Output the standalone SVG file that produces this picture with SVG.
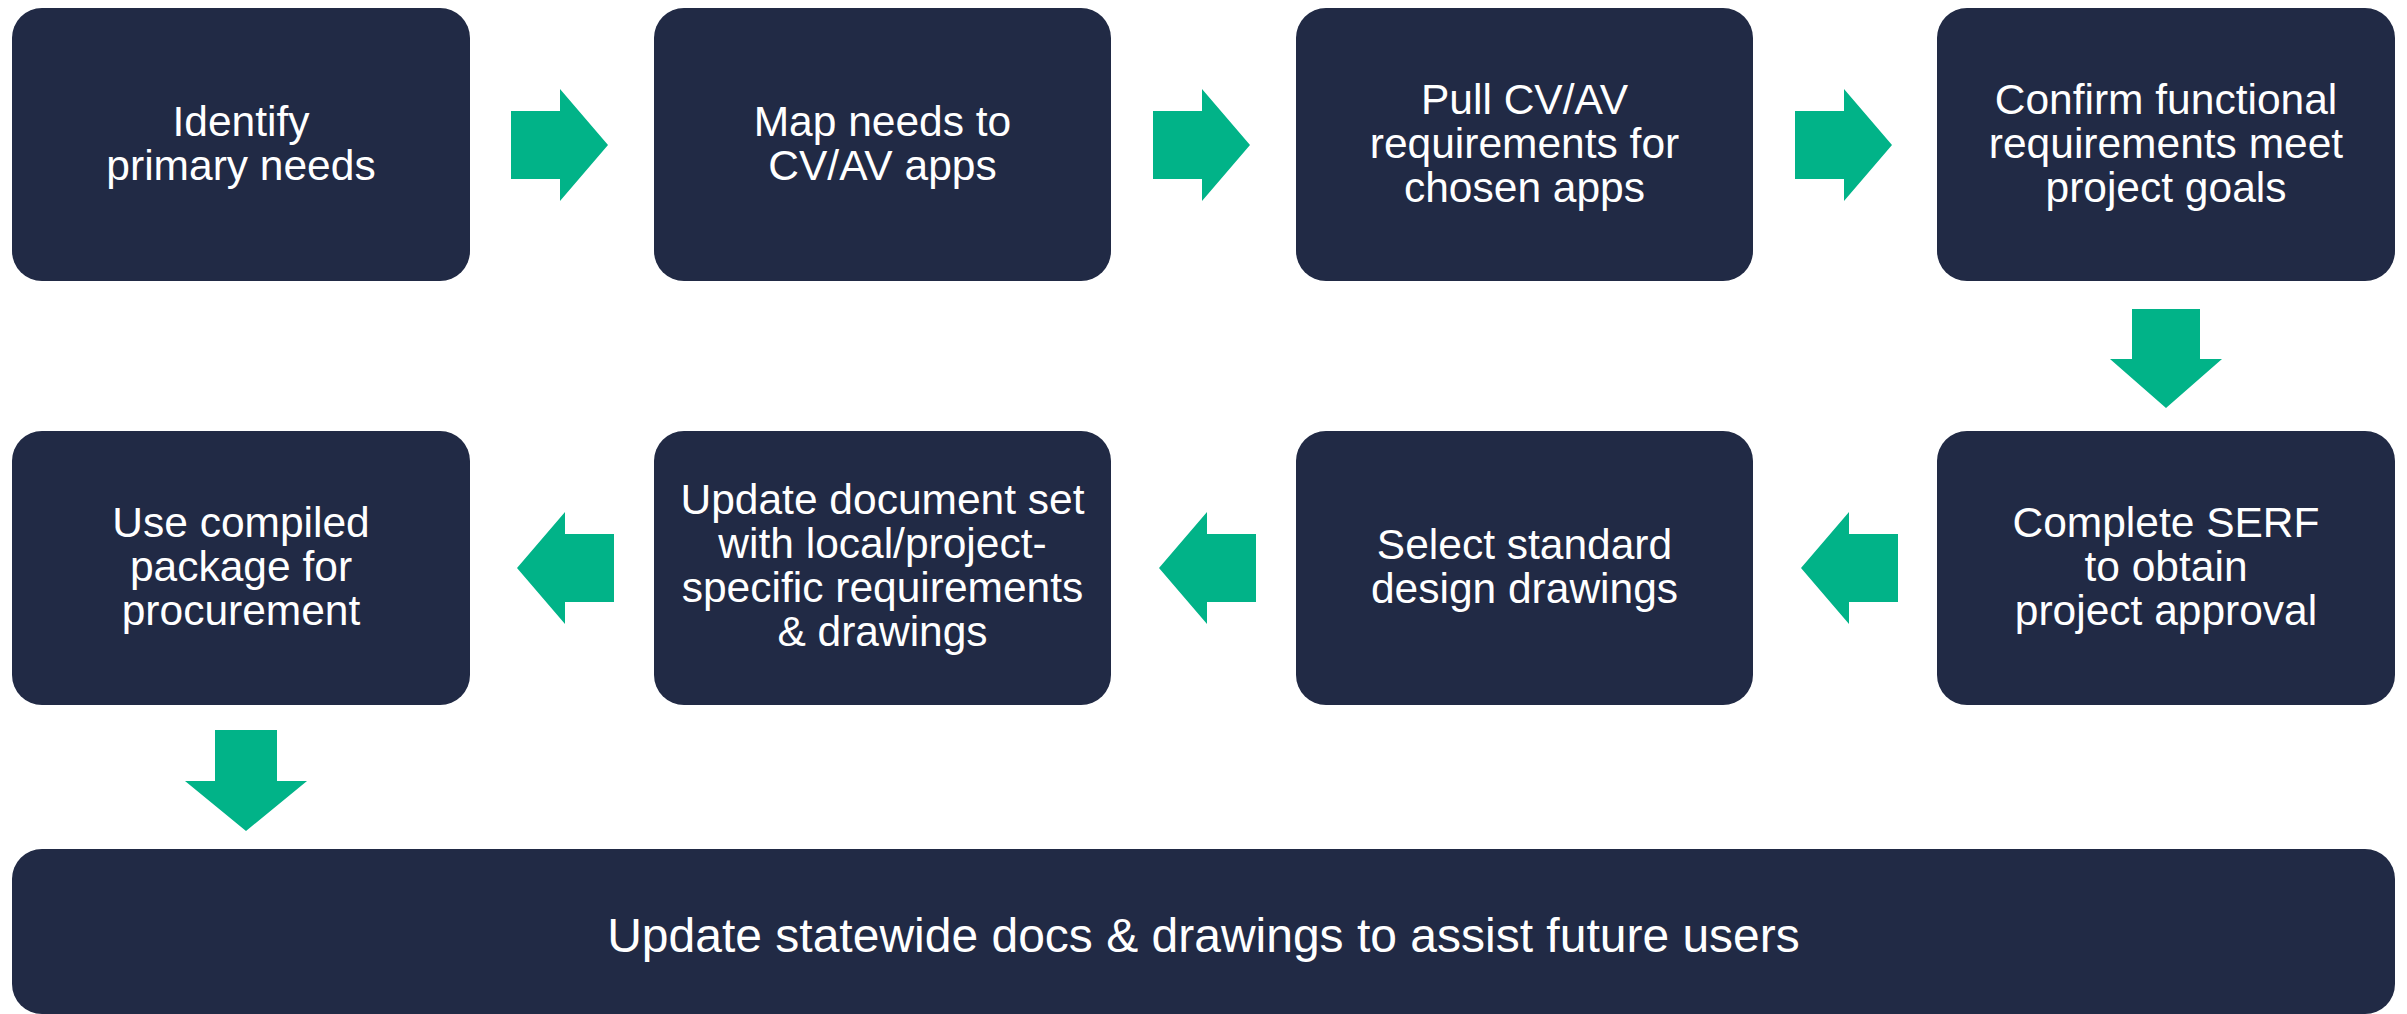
<svg xmlns="http://www.w3.org/2000/svg" width="2407" height="1014" viewBox="0 0 2407 1014">
<style>
.box{fill:#212A45;}
.t{font-family:"Liberation Sans",Arial,sans-serif;font-size:42.5px;fill:#FFFFFF;text-anchor:middle;}
.tb{font-family:"Liberation Sans",Arial,sans-serif;font-size:48px;fill:#FFFFFF;text-anchor:middle;}
.arr{fill:#01B388;}
</style>
<rect width="2407" height="1014" fill="#FFFFFF"/>
<g id="n1"><rect class="box" x="12" y="8" width="458" height="273" rx="30"/>
<text class="t"><tspan x="241" y="136">Identify</tspan><tspan x="241" y="180">primary needs</tspan></text></g>
<g id="n2"><rect class="box" x="654" y="8" width="457" height="273" rx="30"/>
<text class="t"><tspan x="882.5" y="136">Map needs to</tspan><tspan x="882.5" y="180">CV/AV apps</tspan></text></g>
<g id="n3"><rect class="box" x="1296" y="8" width="457" height="273" rx="30"/>
<text class="t"><tspan x="1524.5" y="114">Pull CV/AV</tspan><tspan x="1524.5" y="158">requirements for</tspan><tspan x="1524.5" y="202">chosen apps</tspan></text></g>
<g id="n4"><rect class="box" x="1937" y="8" width="458" height="273" rx="30"/>
<text class="t"><tspan x="2166" y="114">Confirm functional</tspan><tspan x="2166" y="158">requirements meet</tspan><tspan x="2166" y="202">project goals</tspan></text></g>
<g id="n5"><rect class="box" x="1937" y="431" width="458" height="274" rx="30"/>
<text class="t"><tspan x="2166" y="537">Complete SERF</tspan><tspan x="2166" y="581">to obtain</tspan><tspan x="2166" y="625">project approval</tspan></text></g>
<g id="n6"><rect class="box" x="1296" y="431" width="457" height="274" rx="30"/>
<text class="t"><tspan x="1524.5" y="559">Select standard</tspan><tspan x="1524.5" y="603">design drawings</tspan></text></g>
<g id="n7"><rect class="box" x="654" y="431" width="457" height="274" rx="30"/>
<text class="t"><tspan x="882.5" y="514">Update document set</tspan><tspan x="882.5" y="558">with local/project-</tspan><tspan x="882.5" y="602">specific requirements</tspan><tspan x="882.5" y="646">&amp; drawings</tspan></text></g>
<g id="n8"><rect class="box" x="12" y="431" width="458" height="274" rx="30"/>
<text class="t"><tspan x="241" y="537">Use compiled</tspan><tspan x="241" y="581">package for</tspan><tspan x="241" y="625">procurement</tspan></text></g>
<g id="n9"><rect class="box" x="12" y="849" width="2383" height="165" rx="30"/>
<text class="tb" x="1203.5" y="952">Update statewide docs &amp; drawings to assist future users</text></g>
<g id="connectors">
<polygon class="arr" points="511,111 560,111 560,89 608,145 560,201 560,179 511,179"/>
<polygon class="arr" points="1153,111 1202,111 1202,89 1250,145 1202,201 1202,179 1153,179"/>
<polygon class="arr" points="1795,111 1844,111 1844,89 1892,145 1844,201 1844,179 1795,179"/>
<polygon class="arr" points="2132,309 2200,309 2200,359 2222,359 2166,408 2110,359 2132,359"/>
<polygon class="arr" points="1898,534 1849,534 1849,512 1801,568 1849,624 1849,602 1898,602"/>
<polygon class="arr" points="1256,534 1207,534 1207,512 1159,568 1207,624 1207,602 1256,602"/>
<polygon class="arr" points="614,534 565,534 565,512 517,568 565,624 565,602 614,602"/>
<polygon class="arr" points="215,730 277,730 277,781 307,781 246,831 185,781 215,781"/>
</g>
</svg>
